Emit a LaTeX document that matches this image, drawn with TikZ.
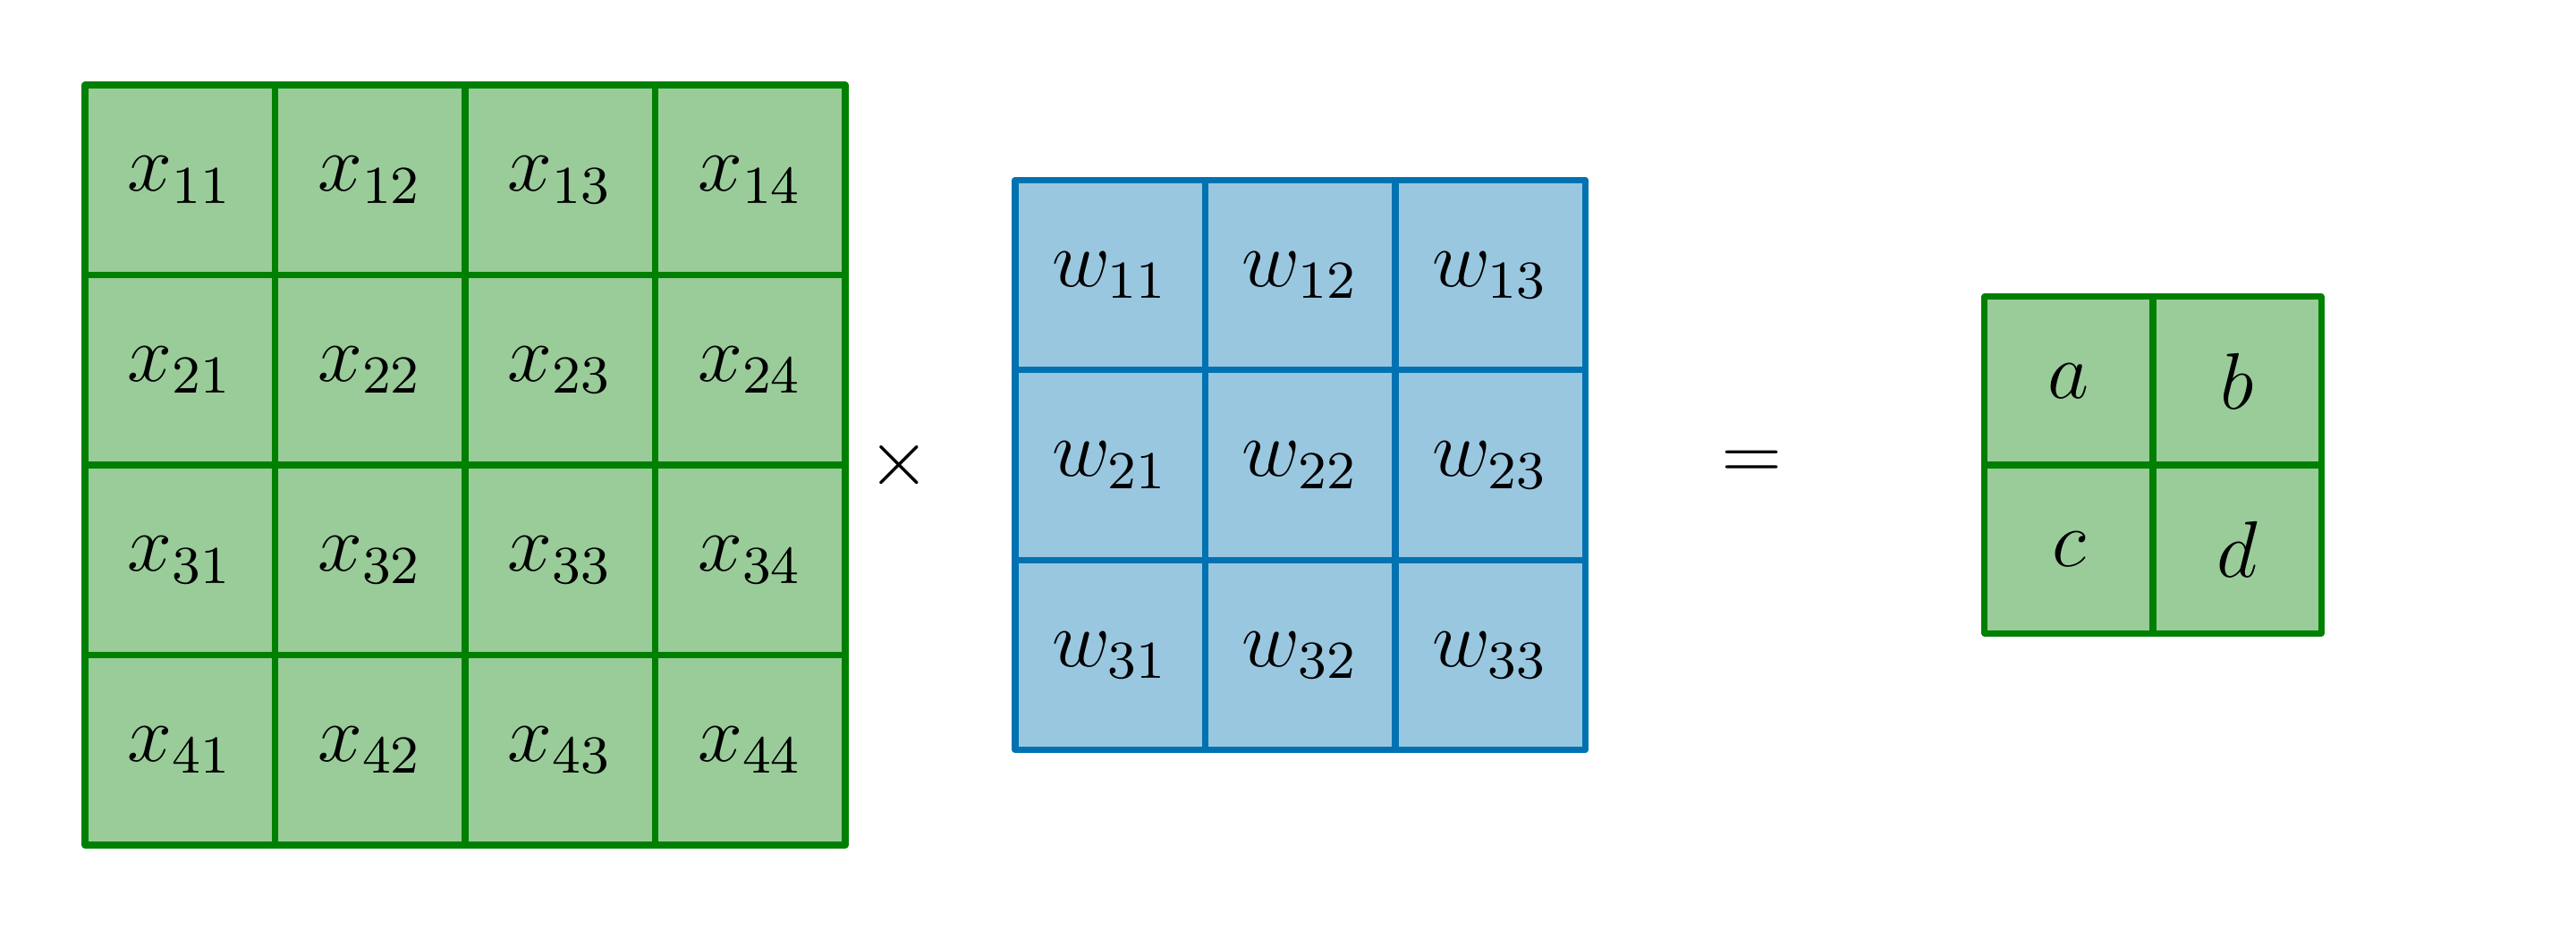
\documentclass[tikz,border=0pt]{standalone}
\usetikzlibrary{positioning}
\definecolor{gridgreen}{RGB}{0,128,0}
\definecolor{gridblue}{RGB}{0,114,178}
\tikzset{
	cell/.style={draw, line width=0.95pt, minimum size=1cm, inner sep=0pt, font=\large},
	xcell/.style={cell, draw=gridgreen, fill=gridgreen!40},
	wcell/.style={cell, draw=gridblue, fill=gridblue!40},
	ycell/.style={xcell, minimum size=0.885cm},
}
\begin{document}
\begin{tikzpicture}[line join = round, line cap = round]
	\def\ymid{2.447}
	\useasboundingbox (0,0) rectangle (13.553,4.894);
	% input 4x4
	\foreach \i in {1,...,4}
		\foreach \j in {1,...,4}
			\node[xcell] (x\i\j) at ({0.447+\j-0.5},{\ymid+2.5-\i}) {$x_{\i\j}$};
	\node (times) at (4.729,\ymid) {\large$\times$};
	% kernel 3x3
	\foreach \i in {1,...,3}
		\foreach \j in {1,...,3}
			\node[wcell] (w\i\j) at ({5.341+\j-0.5},{\ymid+2-\i}) {$w_{\i\j}$};
	\node (equals) at (9.219,\ymid) {\large$=$};
	% output 2x2
	\foreach \i/\j/\t in {1/1/a,1/2/b,2/1/c,2/2/d}
		\node[ycell] (y\i\j) at ({10.442+(\j-0.5)*0.885},{\ymid+(1.5-\i)*0.885}) {$\t$};
\end{tikzpicture}
\end{document}
